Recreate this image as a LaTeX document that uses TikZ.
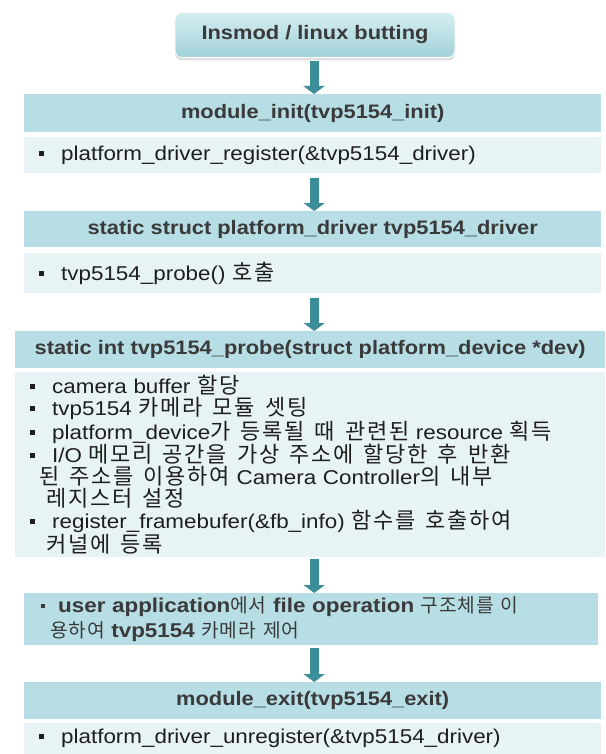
\documentclass[tikz,border=0pt]{standalone}
\usepackage{fontspec}
\setmainfont{Liberation Sans}[FakeStretch=1.12]
\newfontfamily\kr{Noto Sans CJK KR}[Scale=1.1, LetterSpace=8]
\newfontfamily\krsmall{Noto Sans CJK KR}[Scale=0.96, LetterSpace=4]
\usetikzlibrary{arrows.meta,shadows}
\definecolor{hdr}{HTML}{B7DEE4}
\definecolor{bdy}{HTML}{E8F3F5}
\definecolor{arr}{HTML}{3B8E99}
\definecolor{htxt}{HTML}{3A3A3A}
\definecolor{btxt}{HTML}{1E1E1E}
\definecolor{toptop}{HTML}{D4EEF1}
\definecolor{topbot}{HTML}{A2D1D8}
\newcommand{\bsq}{\raisebox{4.5pt}{\rule{5pt}{5pt}}}
\newcommand{\bitem}{\makebox[22pt][l]{\bsq}}
\newcommand{\ko}[1]{{\kr\mdseries\spaceskip=10pt plus 2pt\relax #1}}
\newcommand{\kos}[1]{{\krsmall\mdseries\spaceskip=7pt plus 2pt\relax #1}}
\begin{document}
\begin{tikzpicture}[x=1pt,y=1pt,
  hdrbox/.style={fill=hdr, inner sep=0pt, anchor=north west, minimum height=38pt,
    font=\fontsize{19.5}{22}\selectfont\bfseries, text=htxt},
  bodybox/.style={fill=bdy, inner ysep=0pt, inner xsep=15pt, anchor=north west,
    font=\fontsize{20}{22}\selectfont, text=btxt, align=left},
  flow/.style={arr, line width=9pt, -{Triangle[width=21pt,length=8pt]}}]
\useasboundingbox (0,0) rectangle (605,-754);
\fill[white] (0,0) rectangle (605,-754);

% top rounded box
\node[rounded corners=7pt, top color=toptop, bottom color=topbot, draw=white, line width=0.8pt,
  drop shadow={shadow xshift=0pt, shadow yshift=-3pt, opacity=0.25, fill=gray},
  minimum width=280pt, minimum height=45pt, inner sep=0pt,
  font=\fontsize{19.5}{22}\selectfont\bfseries, text=htxt] (top) at (315,-35) {Insmod / linux butting};

% block 1
\node[hdrbox, minimum width=577pt] (h1) at (24,-94) {module\_init(tvp5154\_init)};
\node[bodybox, text width=547pt, minimum height=36pt] (b1) at (24,-137)
  {\bitem platform\_driver\_register(\&tvp5154\_driver)};

% block 2
\node[hdrbox, minimum width=577pt, minimum height=36pt] (h2) at (24,-211) {static struct platform\_driver tvp5154\_driver};
\node[bodybox, text width=547pt, minimum height=40pt] (b2) at (24,-253)
  {\bitem tvp5154\_probe() \ko{호출}};

% block 3
\node[hdrbox, minimum width=590pt, minimum height=37pt] (h3) at (15,-331) {static int tvp5154\_probe(struct platform\_device *dev)};
\node[bodybox, text width=560pt, minimum height=185pt] (b3) at (15,-372)
  {\bitem camera buffer \ko{할당}\\
   \bitem tvp5154 \ko{카메라 모듈 셋팅}\\
   \bitem platform\_device\ko{가 등록될 때 관련된} resource \ko{획득}\\
   \bitem I/O \ko{메모리 공간을 가상 주소에 할당한 후 반환}\\
   \hspace*{9pt}\ko{된 주소를 이용하여} Camera Controller\ko{의 내부}\\
   \hspace*{16pt}\ko{레지스터 설정}\\
   \bitem register\_framebufer(\&fb\_info) \ko{함수를 호출하여}\\
   \hspace*{16pt}\ko{커널에  등록}};

% user application box
\node[fill=hdr, inner ysep=0pt, inner xsep=17pt, anchor=north west, text width=540pt,
  minimum height=52pt, align=left, font=\fontsize{20}{25}\selectfont\bfseries, text=htxt] (u) at (24,-593)
  {\makebox[17pt][l]{\raisebox{4.5pt}{\rule{4pt}{4pt}}}user application\kos{에서} file operation \kos{구조체를 이}\\
   \hspace*{9pt}\kos{용하여} tvp5154 \kos{카메라 제어}};

% block 4
\node[hdrbox, minimum width=577pt, minimum height=37pt] (h4) at (24,-682) {module\_exit(tvp5154\_exit)};
\node[bodybox, text width=547pt, minimum height=31pt] (b4) at (24,-723)
  {\bitem platform\_driver\_unregister(\&tvp5154\_driver)};

% arrows
\draw[flow] ([xshift=-1pt,yshift=-3pt]top.south) -- ([xshift=-1pt]top.south |- h1.north);
\draw[flow] ([xshift=1.5pt,yshift=-5pt]b1.south) -- ([xshift=1.5pt]h2.north);
\draw[flow] ([xshift=1.5pt,yshift=-5pt]b2.south) -- ([xshift=1.5pt]b2.south |- h3.north);
\draw[flow] ([xshift=1.5pt,yshift=-2pt]b2.south |- b3.south) -- ([xshift=1.5pt]b2.south |- u.north);
\draw[flow] ([xshift=1.5pt,yshift=-3pt]b2.south |- u.south) -- ([xshift=1.5pt]b2.south |- h4.north);
\end{tikzpicture}
\end{document}
